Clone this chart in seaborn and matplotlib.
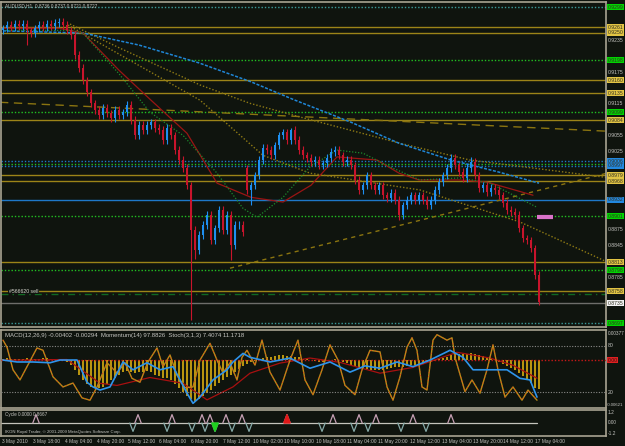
import numpy as np
import matplotlib
matplotlib.use("Agg")
import matplotlib.pyplot as plt
import matplotlib.transforms as mtransforms
import seaborn as sns

# --- hinnad (H1 küünlad, 2 tundi ühe küünla kohta) ---
title_text = "AUDUSD,H1  0.8736 0.8737 0.8721 0.8727"

close = [0.9259, 0.9265, 0.9261, 0.9267, 0.9263, 0.9267, 0.9255, 0.9250, 0.9259, 0.9265,
         0.9261, 0.9267, 0.9263, 0.9269, 0.9271, 0.9265, 0.9255, 0.9246, 0.9208, 0.9183,
         0.9160, 0.9137, 0.9116, 0.9103, 0.9094, 0.9107, 0.9097, 0.9088, 0.9103, 0.9094,
         0.9099, 0.9113, 0.9084, 0.9055, 0.9075, 0.9065, 0.9075, 0.9080, 0.9069, 0.9065,
         0.9046, 0.9069, 0.9055, 0.9027, 0.9008, 0.8993, 0.8960, 0.8875, 0.8836, 0.8865,
         0.8884, 0.8903, 0.8855, 0.8878, 0.8913, 0.8875, 0.8903, 0.8846, 0.8884, 0.8884,
         0.8871, 0.8951, 0.8960, 0.8979, 0.9008, 0.9031, 0.9027, 0.9017, 0.9036, 0.9055,
         0.9061, 0.9046, 0.9065, 0.9046, 0.9027, 0.9017, 0.9012, 0.9004, 0.9008, 0.8998,
         0.9002, 0.9012, 0.9023, 0.9027, 0.9017, 0.9004, 0.9008, 0.8998, 0.8970, 0.8951,
         0.8960, 0.8979, 0.8960, 0.8951, 0.8960, 0.8941, 0.8935, 0.8945, 0.8932, 0.8903,
         0.8922, 0.8932, 0.8941, 0.8932, 0.8941, 0.8932, 0.8922, 0.8932, 0.8951, 0.8966,
         0.8979, 0.8993, 0.9012, 0.8998, 0.8985, 0.8974, 0.8993, 0.9004, 0.8979, 0.8955,
         0.8960, 0.8947, 0.8955, 0.8951, 0.8941, 0.8926, 0.8913, 0.8909, 0.8903, 0.8878,
         0.8859, 0.8855, 0.8840, 0.8789, 0.8737]
first_open = 0.9255
gap_open = {61: 0.8993}
long_lows = {6: 0.9227, 47: 0.8703, 48: 0.8820, 57: 0.8817, 62: 0.8922, 99: 0.8894, 134: 0.8731}
long_highs = {61: 0.8998, 72: 0.9069, 112: 0.9019, 117: 0.9014}
wick = 0.0007

# liikuvad keskmised ja trendijooned (x = küünla indeks)
blue_k = [0, 20, 34, 49, 62, 73, 87, 99, 112, 124, 134]
blue_p = [0.9254, 0.9250, 0.9227, 0.9193, 0.9157, 0.9122, 0.9080, 0.9040, 0.9008, 0.8985, 0.8964]
red_k = [0, 14, 20, 29, 37, 46, 53.5, 62, 70, 77, 83.5, 93.5, 99, 104, 114, 121, 132.5]
red_p = [0.9259, 0.9259, 0.9250, 0.9179, 0.9122, 0.9059, 0.8964, 0.8937, 0.8928, 0.8960,
         0.9014, 0.9008, 0.8983, 0.8970, 0.8970, 0.8966, 0.8941]
green_k = [0, 16.75, 20, 29.25, 36.75, 45, 53.5, 60, 63.5, 70, 76.75, 83.5, 90, 96.75,
           104.25, 114.25, 121.75, 133.5]
green_p = [0.9255, 0.9255, 0.9250, 0.9170, 0.9099, 0.9055, 0.8983, 0.8916, 0.8899, 0.8937,
           0.8995, 0.9027, 0.9021, 0.8995, 0.8970, 0.8974, 0.8964, 0.8918]
gold1_k = [16.75, 29.25, 49.25, 61.75, 74.25, 99.25, 116.75, 150.75]
gold1_p = [0.9267, 0.9221, 0.9151, 0.9116, 0.9090, 0.9040, 0.9008, 0.8975]
gold2_k = [16.25, 49.25, 65, 76.75, 104.25, 129.25, 151]
gold2_p = [0.9265, 0.9122, 0.9017, 0.8983, 0.8951, 0.8890, 0.8814]
dashA_k = [-0.75, 150.75]
dashA_p = [0.9118, 0.9063]
dashB_k = [56.75, 151]
dashB_p = [0.8802, 0.8983]

# horisontaalsed tasemed: (hind, joone värv, stiil, sildi värv)
levels = [
    (0.9299, "#3a9a9a", "dot", "#00d400"),
    (0.9261, "#9c8418", "solid", "#e2c444"),
    (0.9250, "#9c8418", "solid", "#e2c444"),
    (0.9198, "#22c022", "dot", "#00d400"),
    (0.9160, "#9c8418", "solid", "#e2c444"),
    (0.9135, "#9c8418", "solid", "#e2c444"),
    (0.9099, "#22c022", "dot", "#00d400"),
    (0.9084, "#9c8418", "solid", "#e2c444"),
    (0.9006, "#1e78c8", "dot", "#2288e0"),
    (0.9000, "#22c022", "dot", None),
    (0.8997, "#1e78c8", "dot", "#2288e0"),
    (0.8979, "#9c8418", "solid", "#e2c444"),
    (0.8968, "#9c8418", "solid", "#e2c444"),
    (0.8932, "#1e78c8", "solid", "#2288e0"),
    (0.8901, "#22c022", "dot", "#00d400"),
    (0.8813, "#9c8418", "solid", "#e2c444"),
    (0.8798, "#22c022", "dot", "#00d400"),
    (0.8758, "#9c8418", "solid", "#e2c444"),
    (0.8752, "#0f6a22", "dashdot", None),
    (0.8735, "#6e6e6a", "solid", "#f2f2f2"),
    (0.8697, "#3a9a9a", "dot", "#00d400"),
]
price_ticks = [0.8725, 0.8755, 0.8785, 0.8815, 0.8845, 0.8875, 0.8905, 0.8935, 0.8965, 0.8995,
               0.9025, 0.9055, 0.9085, 0.9115, 0.9145, 0.9175, 0.9205, 0.9235, 0.9265, 0.9295]

# MACD paneel
macd_hist = [0.0002, 0.0003, 0.0002, 0.0001, 0.0001, 0.0002, 0.0003, 0.0002, 0.0001, 0.0002,
             0.0003, 0.0003, 0.0002, 0.0002, 0.0001, 0.0000, -0.0003, -0.0007, -0.0013, -0.0020,
             -0.0027, -0.0033, -0.0037, -0.0039, -0.0039, -0.0037, -0.0033, -0.0028, -0.0024, -0.0020,
             -0.0016, -0.0015, -0.0017, -0.0018, -0.0017, -0.0016, -0.0015, -0.0017, -0.0020, -0.0022,
             -0.0024, -0.0025, -0.0028, -0.0033, -0.0038, -0.0044, -0.0049, -0.0054, -0.0056, -0.0054,
             -0.0050, -0.0046, -0.0041, -0.0036, -0.0031, -0.0027, -0.0023, -0.0020, -0.0017, -0.0012,
             -0.0008, -0.0005, -0.0003, -0.0001, 0.0001, 0.0003, 0.0004, 0.0005, 0.0006, 0.0007,
             0.0007, 0.0006, 0.0006, 0.0005, 0.0004, 0.0002, 0.0001, 0.0000, -0.0001, -0.0002,
             -0.0002, -0.0001, 0.0000, 0.0001, 0.0000, -0.0002, -0.0004, -0.0006, -0.0008, -0.0010,
             -0.0011, -0.0012, -0.0013, -0.0014, -0.0014, -0.0013, -0.0012, -0.0011, -0.0010, -0.0010,
             -0.0009, -0.0008, -0.0007, -0.0006, -0.0005, -0.0005, -0.0004, -0.0003, -0.0001, 0.0001,
             0.0003, 0.0005, 0.0007, 0.0008, 0.0008, 0.0008, 0.0009, 0.0010, 0.0009, 0.0007,
             0.0006, 0.0004, 0.0002, 0.0000, -0.0002, -0.0005, -0.0008, -0.0011, -0.0014, -0.0018,
             -0.0022, -0.0027, -0.0032, -0.0038, -0.0040]
signal_k = [0, 16, 24.25, 28.5, 36.75, 45, 51, 57.5, 61.75, 69.25, 76.75, 84.25, 94.25, 102.5,
            113.5, 121.75, 127.5, 133.5]
signal_v = [0.0000, 0.0001, -0.0032, -0.0035, -0.0024, -0.0032, -0.0055, -0.0037, -0.0018, -0.0004,
            0.0003, -0.0003, -0.0018, -0.0010, 0.0011, 0.0003, -0.0007, -0.0025]
mom_k = [0, 3.5, 7.5, 11.75, 14.25, 18.5, 21, 22.5, 24.25, 26.75, 30, 32.5, 36, 39.25, 42.5, 46,
         47.5, 49.25, 52.5, 56, 57.5, 60, 61.75, 66.75, 71.75, 76.75, 81.75, 86.75, 90.5, 94.25,
         98.5, 102.5, 106.75, 111.75, 115, 117.5, 121.75, 126, 129.25, 131.75, 133.5]
mom_v = [61.5, 59, 59, 58, 61.5, 61.5, 33, 27, 23, 27, 59, 49, 58, 49, 53, 19, 6, 14, 36, 49,
         59, 70, 65, 59, 64, 51, 59, 46, 54, 51, 59, 53, 61.5, 74, 65, 49, 49, 49, 38, 36, 14]
stoch_k = [0, 1, 2.5, 4.25, 6, 8.5, 10, 12.5, 15, 17.5, 19.75, 21.75, 23.5, 26, 28.5, 30.5,
           32.25, 34.25, 36.25, 38.5, 40, 41.75, 43.5, 45.5, 47.5, 49.25, 51.75, 53.5, 55, 56.75,
           58.5, 59.75, 61, 63, 64.75, 66.75, 69.25, 71.75, 73.75, 75.5, 77.5, 79.75, 81.75, 83.75,
           85.5, 88, 89.75, 91.75, 94.25, 96, 97.5, 99.25, 101, 102.25, 103.5, 104.75, 106, 107.5,
           108.5, 111, 112.25, 113, 115.5, 117.25, 119.25, 121, 122.5, 123.75, 125.5, 127.5,
           129.75, 131.25, 133.5]
stoch_v = [87, 78, 49, 36, 53, 77, 74, 40, 27, 32, 13, 10, 27, 58, 45, 58, 38, 33, 59, 77, 53,
           68, 42, 26, 27, 61.5, 83, 61.5, 45, 58, 36, 65, 74, 55, 87, 46, 23, 61.5, 87, 36, 17,
           49, 81, 61.5, 29, 17, 49, 74, 72, 27, 10, 40, 78, 90, 74, 27, 23, 87, 94, 87, 90, 65,
           21, 36, 19, 49, 81, 49, 14, 27, 10, 23, 10]
macd_text = ("MACD(12,26,9) -0.00402 -0.00294  Momentum(14) 97.8826  "
             "Stoch(3,1,3) 7.4074 11.1718")

# tsükli paneel
cycle_up = [8.25, 33.75, 42.25, 49.75, 51.75, 55.75, 59.75, 71, 82.5, 89, 93.25, 102.5, 112]
cycle_down = [32.5, 41, 47.25, 50.5, 53, 57.25, 61.5, 79.75, 87.75, 91.25, 99.5, 105.75]
cycle_red = [71]
cycle_green = [53]

time_k = [-0.25, 7.5, 15.5, 23.5, 31.25, 39, 47, 55, 62.5, 70.25, 78.25, 86, 93.75, 101.75,
          109.75, 117.5, 125, 133]
time_labels = ["3 May 2010", "3 May 18:00", "4 May 04:00", "4 May 20:00", "5 May 12:00",
               "6 May 04:00", "6 May 20:00", "7 May 12:00", "10 May 02:00", "10 May 10:00",
               "10 May 18:00", "11 May 04:00", "11 May 20:00", "12 May 12:00", "13 May 04:00",
               "13 May 20:00", "14 May 12:00", "17 May 04:00"]

# --- joonistamine ---
BG = "#0f140e"
FRAME = "#a8a492"
TXT = "#c4c4c0"
sns.set_theme(style="dark", rc={"axes.facecolor": BG, "figure.facecolor": BG,
                                "axes.edgecolor": FRAME, "axes.grid": False})
plt.rcParams["font.family"] = ["Liberation Sans", "DejaVu Sans"]
FS = 3.7   # MT4 väike kiri
FST = 3.5  # ajatelje kiri

W, H = 625, 446
fig = plt.figure(figsize=(W / 100, H / 100), dpi=100)


def panel(top, bottom):
    a = fig.add_axes([1 / W, (H - bottom) / H, 605 / W, (bottom - top) / H])
    a.set_facecolor(BG)
    a.set_xticks([])
    a.set_yticks([])
    for s in a.spines.values():
        s.set_color(FRAME)
        s.set_linewidth(1.2)
    a.set_xlim(-0.5, 150.75)
    return a


ax = panel(2, 327)
ax_m = panel(330, 408)
ax_c = panel(410, 436)

DOT = (0, (1, 1.4))
styles = {"dot": DOT, "solid": "-", "dashdot": (0, (5, 3, 1, 3))}

# tasemete jooned
for p, col, st, tag in levels:
    ax.axhline(p, color=col, ls=styles[st], lw=1.0, zorder=1)

# trendijooned ja keskmised
sns.lineplot(x=dashA_k, y=dashA_p, ax=ax, color="#8a7410", lw=1.0, ls=(0, (6, 4)), zorder=2)
sns.lineplot(x=dashB_k, y=dashB_p, ax=ax, color="#8a7410", lw=1.0, ls=(0, (3, 3)), zorder=2)
sns.lineplot(x=gold1_k, y=gold1_p, ax=ax, color="#8e7a14", lw=1.0, ls=DOT, zorder=2)
sns.lineplot(x=gold2_k, y=gold2_p, ax=ax, color="#8e7a14", lw=1.0, ls=DOT, zorder=2)
sns.lineplot(x=blue_k, y=blue_p, ax=ax, color="#1f86d6", lw=1.1, ls=(0, (2, 1)), zorder=2)
sns.lineplot(x=red_k, y=red_p, ax=ax, color="#9a1414", lw=0.9, zorder=2)
sns.lineplot(x=green_k, y=green_p, ax=ax, color="#1c8a2c", lw=0.9, ls=DOT, zorder=2)

# küünlad
c = np.array(close)
o = np.r_[first_open, c[:-1]]
for i, v in gap_open.items():
    o[i] = v
k = np.arange(len(c))
hi = np.maximum(o, c) + wick
lo = np.minimum(o, c) - wick
for i, v in long_lows.items():
    lo[i] = v
for i, v in long_highs.items():
    hi[i] = v
col = np.where(c >= o, "#1e8ff0", "#c8142c")
ax.vlines(k, lo, hi, colors=col, lw=0.8, zorder=3)
ax.bar(k, np.maximum(np.abs(c - o), 0.00012), bottom=np.minimum(o, c), width=0.6,
       color=col, linewidth=0, zorder=4)

ax.plot([133.5, 137.5], [0.8900, 0.8900], color="#d872c8", lw=3, solid_capstyle="butt", zorder=5)
ax.set_ylim(0.8690, 0.9309)

ax.text(0.006, 0.988, title_text, transform=ax.transAxes, color=TXT, fontsize=3.4, va="center")
ax.text(1.5, 0.8758, "#566620 sell", color="#d8d8d0", fontsize=FS, va="center",
        bbox=dict(boxstyle="square,pad=0.1", fc=BG, ec="none"), zorder=6)

# parem hinnaskaala
tr = mtransforms.blended_transform_factory(ax.transAxes, ax.transData)
tag_prices = [p for p, _, _, t in levels if t]
for p in price_ticks:
    if min(abs(p - q) for q in tag_prices) > 0.0011:
        ax.text(1.003, p, f"{p:.4f}", transform=tr, color=TXT, fontsize=FS,
                va="center", ha="left", clip_on=False)
for p, _, _, t in levels:
    if t:
        ax.text(1.003, p, f"{p:.4f}", transform=tr, color="#303020", fontsize=FS,
                va="center", ha="left", clip_on=False,
                bbox=dict(boxstyle="square,pad=0.1", fc=t, ec="none"))

# MACD / Momentum / Stoch
ax_m.set_ylim(-0.00663, 0.00419)
ax_m.bar(np.arange(len(macd_hist)), macd_hist, width=0.35, color="#b89410", linewidth=0, zorder=2)
ax_m.axhline(0, color="#c81818", ls=DOT, lw=1.0, zorder=3)
sns.lineplot(x=signal_k, y=signal_v, ax=ax_m, color="#a81010", lw=0.9, zorder=4)
ax_s = ax_m.twinx()
ax_s.set_ylim(0, 100)
ax_s.axis("off")
for lv in (80, 20):
    ax_s.axhline(lv, color="#8a8a88", ls=DOT, lw=0.8, zorder=1)
sns.lineplot(x=stoch_k, y=stoch_v, ax=ax_s, color="#b88c18", lw=1.0, zorder=5)
sns.lineplot(x=stoch_k, y=stoch_v, ax=ax_s, color="#e03c1c", lw=0.7, ls=(0, (1, 3)), zorder=6)
sns.lineplot(x=mom_k, y=mom_v, ax=ax_s, color="#2e94ec", lw=1.2, zorder=7)
ax_s.set_xlim(-0.5, 150.75)
ax_m.text(0.006, 0.93, macd_text, transform=ax_m.transAxes, color=TXT, fontsize=4.3, va="center")

trm = mtransforms.blended_transform_factory(ax_m.transAxes, ax_m.transData)
trs = mtransforms.blended_transform_factory(ax_s.transAxes, ax_s.transData)
ax_m.text(1.003, 0.00377, "0.00377", transform=trm, color=TXT, fontsize=3.4, va="center", clip_on=False)
ax_m.text(1.001, -0.00621, "-0.00621", transform=trm, color=TXT, fontsize=3.1, va="center", clip_on=False)
ax_m.text(1.003, 0.0, "0.00", transform=trm, color="#301010", fontsize=FS, va="center", clip_on=False,
          bbox=dict(boxstyle="square,pad=0.1", fc="#e02020", ec="none"))
ax_s.text(1.003, 80, "80", transform=trs, color=TXT, fontsize=FS, va="center", clip_on=False)
ax_s.text(1.003, 20, "20", transform=trs, color=TXT, fontsize=FS, va="center", clip_on=False)

# tsükkel
ax_c.set_ylim(-1.55, 1.55)
ax_c.plot([-0.5, 133.5], [0, 0], color="#c4c4bc", lw=0.9, zorder=2)
for s, pts, clr in ((1, cycle_up, "#c6a0b4"), (-1, cycle_down, "#86aaa8")):
    for p in pts:
        ax_c.plot([p - 0.8, p, p + 0.8], [0, s, 0], color=clr, lw=0.9, zorder=3)
for p in cycle_red:
    ax_c.fill([p - 0.8, p, p + 0.8], [0, 1, 0], color="#e01818", zorder=4)
for p in cycle_green:
    ax_c.fill([p - 0.8, p, p + 0.8], [0, -1, 0], color="#20d020", zorder=4)
ax_c.text(0.006, 0.84, "Cycle 0.0000 0.8667", transform=ax_c.transAxes, color=TXT,
          fontsize=3.3, va="center")
ax_c.text(0.006, 0.16, "IKON Royal Trader, \u00a9 2001-2009 MetaQuotes Software Corp.",
          transform=ax_c.transAxes, color=TXT, fontsize=3.1, va="center")
trc = mtransforms.blended_transform_factory(ax_c.transAxes, ax_c.transData)
for v, t in ((1.2, "1.2"), (0.0, "0.00"), (-1.2, "-1.2")):
    ax_c.text(1.003, v, t, transform=trc, color=TXT, fontsize=3.4, va="center", clip_on=False)

# ajatelg
trt = mtransforms.blended_transform_factory(ax_c.transData, ax_c.transAxes)
for x, t in zip(time_k, time_labels):
    ax_c.text(x, -0.2, t, transform=trt, color=TXT, fontsize=FST, va="center", ha="left",
              clip_on=False)

fig.savefig("out.png", dpi=100, facecolor=BG)
